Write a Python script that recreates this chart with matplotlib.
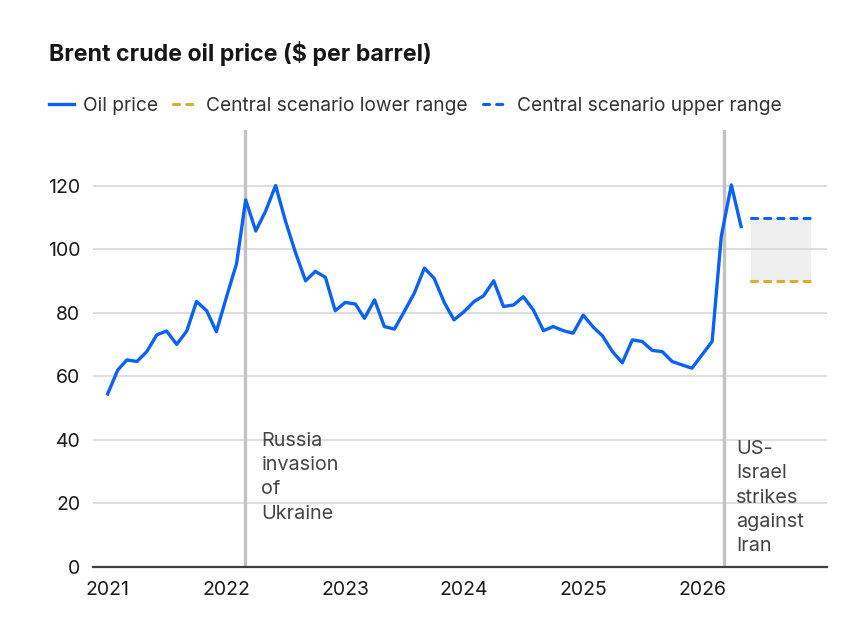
import numpy as np
import pandas as pd
import matplotlib
matplotlib.use("Agg")
import matplotlib.pyplot as plt
from matplotlib.lines import Line2D

# monthly Brent average, Jan 2021 .. May 2026
months = pd.date_range("2021-01-01", "2026-05-01", freq="MS")
price = [
    54.5, 62.0, 65.2, 64.7, 67.8, 73.1, 74.3, 70.1, 74.3, 83.6, 80.7, 74.1,
    85.0, 95.5, 115.6, 105.8, 112.0, 120.1, 109.0, 99.0, 90.1, 93.1, 91.2, 80.7,
    83.3, 82.8, 78.3, 84.1, 75.7, 74.9, 80.4, 86.2, 94.1, 90.9, 83.3, 77.8,
    80.4, 83.6, 85.4, 90.1, 82.0, 82.5, 85.1, 80.9, 74.4, 75.7, 74.4, 73.6,
    79.3, 75.5, 72.8, 67.8, 64.3, 71.5, 71.0, 68.2, 67.8, 64.7, 63.6, 62.6,
    66.8, 71.0, 104.0, 120.3, 107.2,
]

scenario_start = "2026-06-01"
scenario_end = "2026-12-01"
scenario_low = 90
scenario_high = 110

events = ["2022-02-27", "2026-03-09"]
event_labels = ["Russia\ninvasion\nof\nUkraine", "US-\nIsrael\nstrikes\nagainst\nIran"]

years = [2021, 2022, 2023, 2024, 2025, 2026]
yticks = [0, 20, 40, 60, 80, 100, 120]

BLUE = "#0a62f5"
GOLD = "#d3b02e"
DASH = (0, (2.0, 2.3))

plt.rcParams["font.family"] = ["Inter", "DejaVu Sans"]

fig = plt.figure(figsize=(8.59, 6.34), dpi=100)
ax = fig.add_axes([0.1079, 0.1057, 0.8545, 0.6893])

for d in events:
    ax.axvline(pd.Timestamp(d), color="#c2c2c2", lw=2.4, zorder=1)

band_x = [pd.Timestamp(scenario_start), pd.Timestamp(scenario_end)]
ax.fill_between(band_x, scenario_low, scenario_high, color="#efefef", lw=0, zorder=0.4)
ax.plot(band_x, [scenario_low] * 2, color=GOLD, lw=2.2, ls=DASH,
        dash_capstyle="round", zorder=2)
ax.plot(band_x, [scenario_high] * 2, color=BLUE, lw=2.2, ls=DASH,
        dash_capstyle="round", zorder=2)

ax.plot(months, price, color=BLUE, lw=2.4, zorder=3)

# event notes
ax.text(pd.Timestamp(events[0]) + pd.Timedelta(days=50), 42.6, event_labels[0],
        ha="left", va="top", fontsize=14.3, color="#444444", linespacing=1.45)
ax.text(pd.Timestamp(events[1]) + pd.Timedelta(days=38), 40.0, event_labels[1],
        ha="left", va="top", fontsize=14.3, color="#444444", linespacing=1.45)

ax.set_xlim(pd.Timestamp("2020-11-16"), pd.Timestamp("2027-01-19"))
ax.set_ylim(0, 137.6)
ax.set_yticks(yticks)
ax.set_xticks([pd.Timestamp(f"{y}-01-01") for y in years])
ax.set_xticklabels([str(y) for y in years])
ax.yaxis.grid(True, color="#d8d8d8", lw=1.2)
ax.set_axisbelow(True)
for s in ["top", "right", "left"]:
    ax.spines[s].set_visible(False)
ax.spines["bottom"].set_color("#3c4043")
ax.spines["bottom"].set_linewidth(1.6)
ax.spines["bottom"].set_zorder(4)
ax.tick_params(axis="both", length=0, labelsize=14, colors="#1a1a1a")
ax.tick_params(axis="y", pad=9)
ax.tick_params(axis="x", pad=10)

fig.text(49 / 859, 1 - 53 / 634, "Brent crude oil price ($ per barrel)",
         fontsize=16.7, fontweight="bold", color="#161616", va="center", ha="left")

handles = [
    Line2D([], [], color=BLUE, lw=2.4),
    Line2D([], [], color=GOLD, lw=2.2, ls=DASH, dash_capstyle="round"),
    Line2D([], [], color=BLUE, lw=2.2, ls=DASH, dash_capstyle="round"),
]
labels = ["Oil price", "Central scenario lower range", "Central scenario upper range"]
leg = fig.legend(handles, labels, loc="center left", ncol=3, frameon=False,
                 bbox_to_anchor=(49 / 859, 1 - 106 / 634), borderaxespad=0,
                 borderpad=0, handlelength=1.3, handletextpad=0.45,
                 columnspacing=0.8, fontsize=13.8)
for t in leg.get_texts():
    t.set_color("#333333")

fig.savefig("out.png", dpi=100)
